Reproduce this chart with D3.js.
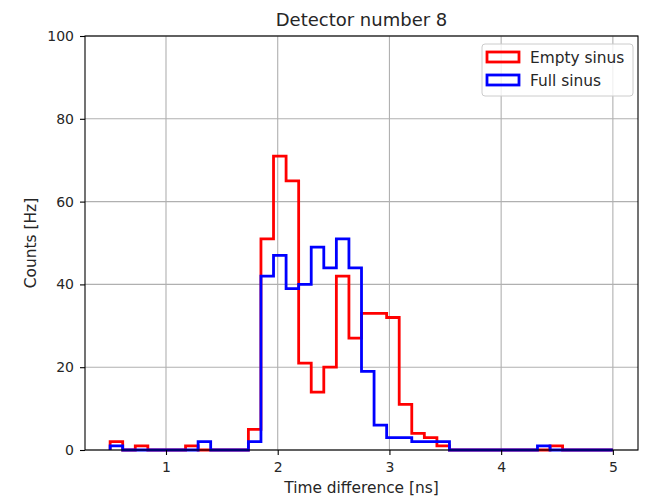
<!DOCTYPE html>
<html>
<head>
<meta charset="utf-8">
<script src="https://cdn.jsdelivr.net/npm/d3@7"></script>
<style>
  body { margin: 0; background: #fff; }
  text { font-family: "DejaVu Sans", sans-serif; fill: #262626; }
</style>
</head>
<body>
<div id="chart"></div>
<script>
// histogram: 40 bins from 0.5 to 5.0 ns
var binStart = 0.5;
var binWidth = 0.1125;

var emptySinus = [2, 0, 1, 0, 0, 0, 1, 0, 0, 0,
                  0, 5, 51, 71, 65, 21, 14, 20, 42, 27,
                  33, 33, 32, 11, 4, 3, 1, 0, 0, 0,
                  0, 0, 0, 0, 0, 1, 0, 0, 0, 0];
var fullSinus = [1, 0, 0, 0, 0, 0, 0, 2, 0, 0,
                 0, 2, 42, 47, 39, 40, 49, 44, 51, 44,
                 19, 6, 3, 3, 2, 2, 2, 0, 0, 0,
                 0, 0, 0, 0, 1, 0, 0, 0, 0, 0];

var xTicks = [1, 2, 3, 4, 5];
var yTicks = [0, 20, 40, 60, 80, 100];
var seriesNames = ["Empty sinus", "Full sinus"];
var seriesColors = ["#ff0000", "#0000ff"];

var W = 650, H = 498;
var plotL = 85, plotR = 638, plotT = 36, plotB = 450;

var svg = d3.select('#chart')
  .append('svg')
  .attr('width', W)
  .attr('height', H);

var x = d3.scaleLinear().domain([0.275, 5.225]).range([plotL, plotR]);
var y = d3.scaleLinear().domain([0, 100]).range([plotB, plotT]);

// grid
svg.append('g')
  .selectAll('line')
  .data(xTicks)
  .join('line')
  .attr('x1', d => x(d)).attr('x2', d => x(d))
  .attr('y1', plotT).attr('y2', plotB)
  .attr('stroke', '#b0b0b0').attr('stroke-width', 1.1);

svg.append('g')
  .selectAll('line')
  .data(yTicks)
  .join('line')
  .attr('x1', plotL).attr('x2', plotR)
  .attr('y1', d => y(d)).attr('y2', d => y(d))
  .attr('stroke', '#b0b0b0').attr('stroke-width', 1.1);

// step outline like matplotlib histtype='step'
function stepPoints(counts) {
  var pts = [[binStart, 0]];
  counts.forEach(function(c, i) {
    var x0 = binStart + i * binWidth;
    pts.push([x0, c]);
    pts.push([x0 + binWidth, c]);
  });
  pts.push([binStart + counts.length * binWidth, 0]);
  return pts;
}

var line = d3.line()
  .x(d => x(d[0]))
  .y(d => y(d[1]));

[emptySinus, fullSinus].forEach(function(counts, i) {
  svg.append('path')
    .datum(stepPoints(counts))
    .attr('fill', 'none')
    .attr('stroke', seriesColors[i])
    .attr('stroke-width', 2.8)
    .attr('stroke-linejoin', 'miter')
    .attr('d', line);
});

// axes
var xAxis = svg.append('g')
  .attr('transform', 'translate(0,' + plotB + ')')
  .call(d3.axisBottom(x).tickValues(xTicks).tickSize(5).tickPadding(7).tickFormat(d3.format('d')));
var yAxis = svg.append('g')
  .attr('transform', 'translate(' + plotL + ',0)')
  .call(d3.axisLeft(y).tickValues(yTicks).tickSize(5).tickPadding(6));

[xAxis, yAxis].forEach(function(a) {
  a.select('.domain').remove();
  a.selectAll('line').attr('stroke', '#000').attr('stroke-width', 1.1);
  a.selectAll('text')
    .style('font-family', '"DejaVu Sans", sans-serif')
    .style('font-size', '14px')
    .attr('fill', '#262626');
});

// frame
svg.append('rect')
  .attr('x', plotL).attr('y', plotT)
  .attr('width', plotR - plotL).attr('height', plotB - plotT)
  .attr('fill', 'none')
  .attr('stroke', '#000')
  .attr('stroke-width', 1.1);

// labels
svg.append('text')
  .attr('x', (plotL + plotR) / 2).attr('y', 26)
  .attr('text-anchor', 'middle')
  .style('font-size', '18px')
  .text('Detector number 8');

svg.append('text')
  .attr('x', (plotL + plotR) / 2).attr('y', 493)
  .attr('text-anchor', 'middle')
  .style('font-size', '15.4px')
  .text('Time difference [ns]');

svg.append('text')
  .attr('transform', 'translate(36,' + ((plotT + plotB) / 2) + ') rotate(-90)')
  .attr('text-anchor', 'middle')
  .style('font-size', '15.4px')
  .text('Counts [Hz]');

// legend
var lg = svg.append('g').attr('transform', 'translate(482,44)');
lg.append('rect')
  .attr('width', 151).attr('height', 52)
  .attr('rx', 3)
  .attr('fill', 'rgba(255,255,255,0.8)')
  .attr('stroke', '#cccccc');

seriesNames.forEach(function(name, i) {
  var row = lg.append('g').attr('transform', 'translate(0,' + (i * 23) + ')');
  row.append('rect')
    .attr('x', 5).attr('y', 8)
    .attr('width', 32).attr('height', 10)
    .attr('fill', 'none')
    .attr('stroke', seriesColors[i])
    .attr('stroke-width', 2.8);
  row.append('text')
    .attr('x', 48).attr('y', 18.5)
    .style('font-size', '15.4px')
    .text(name);
});
</script>
</body>
</html>
